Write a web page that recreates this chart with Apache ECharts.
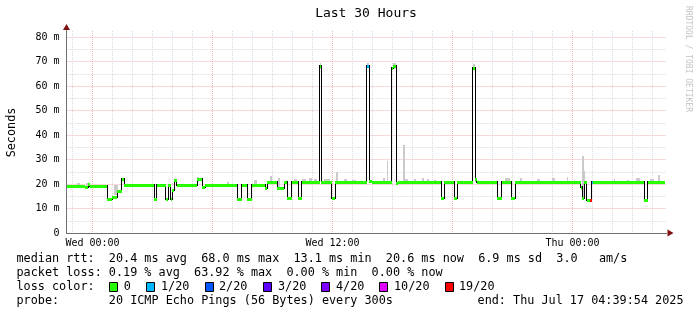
<!DOCTYPE html>
<html><head><meta charset="utf-8">
<script src="https://cdn.jsdelivr.net/npm/echarts/dist/echarts.min.js"></script>
<style>html,body{margin:0;padding:0;background:#fff}#c{width:697px;height:315px}</style>
</head><body><div id="c"></div>
<script>
// ---- data (hours relative to Wed 00:00) ----
const lossLabels = ['0', '1/20', '2/20', '3/20', '4/20', '10/20', '19/20'];
const lossColors = ['#26ff00', '#00b8ff', '#0059ff', '#5e00ff', '#7e00ff', '#dd00ff', '#ff0000'];

const xTickHours = [0, 12, 24];
const xTickLabels = ['Wed 00:00', 'Wed 12:00', 'Thu 00:00'];

// median rtt step function: change times (h), value (ms) held until next change, loss index
const medHours = [-1.29, -0.38, -0.21, -0.15, 0.74, 0.98, 1.24, 1.46, 1.59, 3.08, 3.22, 3.66, 3.79, 3.92, 3.99, 4.08, 4.21,
  5.24, 5.49, 5.63, 7.24, 7.46, 7.74, 7.96, 8.63, 8.74, 9.24, 9.59, 9.74, 9.96, 10.29, 10.46, 11.35, 11.44, 11.96, 12.13,
  13.71, 13.84, 13.95, 14.96, 15.04, 15.19, 15.28, 17.43, 17.59, 18.09, 18.24, 19.01, 19.13, 19.21, 20.24, 20.46, 20.93,
  21.13, 24.41, 24.48, 24.59, 24.71, 24.88, 24.96, 25.01, 27.59, 27.75];
const medValues = [19.3, 18.7, 20.0, 19.3, 13.9, 14.6, 17.0, 22.0, 19.4, 14.0, 19.4, 14.0, 19.4, 14.0, 17.5, 21.8, 19.4,
  22.0, 18.7, 19.4, 14.0, 19.4, 14.0, 19.4, 18.2, 20.8, 18.2, 20.8, 14.2, 20.8, 14.2, 20.8, 68.0, 20.8, 14.2, 20.8,
  68.3, 21.4, 20.8, 67.3, 68.0, 20.5, 20.9, 14.4, 20.9, 14.4, 20.9, 67.3, 22.0, 20.9, 14.4, 20.9, 14.4,
  20.9, 18.7, 14.3, 20.9, 13.4, 13.4, 20.9, 20.9, 13.5, 20.9];
const medLoss = [0, 0, 0, 0, 0, 0, 0, 0, 0, 0, 0, 0, 0, 0, 0, 0, 0,
  0, 0, 0, 0, 0, 0, 0, 0, 0, 0, 0, 0, 0, 0, 0, 0, 0, 0, 0,
  1, 0, 0, 0, 0, 0, 0, 0, 0, 0, 0, 0, 0, 0, 0, 0, 0,
  0, 0, 0, 0, 0, 6, 1, 0, 0, 0];
const endHour = 28.64;

// smoke (spread of pings): start h, end h, low ms, high ms
const smokeStart = [-0.78, -0.33, 1.06, 5.23, 6.73, 8.06, 8.88, 9.28, 10.08, 10.48, 10.83, 11.08, 11.35, 11.58, 12.18, 12.58, 12.98,
  13.71, 14.53, 14.71, 15.04, 15.51, 15.63, 16.08, 16.48, 16.73, 17.08, 19.01, 19.14, 20.63, 21.36, 22.23, 22.98, 23.73, 24.06,
  24.48, 24.56, 26.06, 26.73, 27.19, 27.89, 28.28];
const smokeEnd = [-0.63, -0.23, 1.28, 5.33, 6.83, 8.23, 8.98, 9.38, 10.23, 10.68, 10.98, 11.23, 11.44, 11.88, 12.28, 12.73, 13.18,
  13.84, 14.63, 14.79, 15.19, 15.63, 15.78, 16.18, 16.58, 16.83, 17.18, 19.13, 19.23, 20.88, 21.48, 22.38, 23.13, 23.78, 24.14,
  24.56, 24.64, 26.14, 26.81, 27.36, 28.06, 28.39];
const smokeLow = [19.3, 18.7, 15.6, 21.0, 19.4, 19.4, 20.8, 18.2, 20.8, 20.8, 20.8, 20.8, 67.0, 20.8, 20.8, 20.8, 20.8,
  67.5, 20.8, 20.8, 67.0, 20.9, 20.9, 20.9, 20.9, 20.9, 20.9, 66.5, 20.9, 20.9, 20.9, 20.9, 20.9, 20.9, 20.9,
  14.3, 18.0, 20.9, 20.9, 20.9, 20.9, 20.9];
const smokeHigh = [20.4, 20.6, 19.4, 22.7, 21.0, 21.8, 23.1, 22.3, 22.0, 22.0, 22.3, 22.0, 69.3, 22.2, 24.7, 22.0, 21.8,
  69.5, 22.4, 29.2, 69.3, 36.0, 22.0, 22.2, 22.5, 22.0, 21.8, 69.0, 22.4, 22.4, 22.4, 22.0, 22.4, 23.0, 21.8,
  31.4, 25.2, 22.0, 21.8, 22.4, 22.0, 23.8];

const statLines = [
  'median rtt:  20.4 ms avg  68.0 ms max  13.1 ms min  20.6 ms now  6.9 ms sd  3.0   am/s',
  'packet loss: 0.19 % avg  63.92 % max  0.00 % min  0.00 % now'
];
const probeText = 'probe:       20 ICMP Echo Pings (56 Bytes) every 300s';
const endText = 'end: Thu Jul 17 04:39:54 2025';

// ---- build series data ----
const bandData = medHours.map((h, i) => [h, i + 1 < medHours.length ? medHours[i + 1] : endHour, medValues[i], medLoss[i]]);
const stepData = medHours.slice(1).map((h, i) => [h, medValues[i], medValues[i + 1]]);
const smokeData = smokeStart.map((s, i) => [s, smokeEnd[i], smokeLow[i], smokeHigh[i]]);

const mono = '"DejaVu Sans Mono", monospace';
const GRAY = '#dadada', RED = '#eeb0b0';

const chart = echarts.init(document.getElementById('c'), null, {renderer: 'canvas'});

const hidden = {show: false};
const legendX = 16.5;
const rowY = [259, 273, 287, 301];
const boxX = [108.6, 146, 204.6, 262.7, 321, 379, 444.6];
const lblX = [123.8, 161, 219, 278, 336, 394, 459];
const FS = 11.8;

function txt(x, y, s, opt) {
  opt = opt || {};
  return {
    type: 'text', x: x, y: y, rotation: opt.rot || 0, z: 100, silent: true,
    style: {
      text: s, fill: opt.color || '#000', fontFamily: mono, fontSize: opt.size || FS,
      align: opt.align || 'left', verticalAlign: 'middle', textAlign: opt.align || 'left', textVerticalAlign: 'middle'
    }
  };
}

const graphics = [
  txt(366, 14, 'Last 30 Hours', {size: 13, align: 'center'}),
  txt(12, 132.5, 'Seconds', {rot: Math.PI / 2, align: 'center'}),
  txt(688, 59, 'RRDTOOL / TOBI OETIKER', {rot: -Math.PI / 2, align: 'center', size: 8, color: '#c4c4c4'}),
  txt(legendX, rowY[0], statLines[0]),
  txt(legendX, rowY[1], statLines[1]),
  txt(legendX, rowY[2], 'loss color:'),
  txt(legendX, rowY[3], probeText),
  txt(683.5, rowY[3], endText, {align: 'right'})
];
lossLabels.forEach((l, i) => {
  graphics.push({type: 'rect', z: 100, silent: true, shape: {x: Math.round(boxX[i]) + 0.5, y: rowY[2] - 4.5, width: 8, height: 9},
    style: {fill: lossColors[i], stroke: '#000', lineWidth: 1}});
  graphics.push(txt(lblX[i], rowY[2], l));
});

const snap = v => Math.round(v);

const option = {
  animation: false,
  backgroundColor: '#fff',
  grid: [
    {left: 66.5, right: 30.5, top: 31, bottom: 82, outerBoundsMode: 'none'},
    {left: 72.5, right: 44.5, top: 31, bottom: 82, outerBoundsMode: 'none'},
    {left: 66.5, right: 30.5, top: 37, bottom: 82, outerBoundsMode: 'none'}
  ],
  xAxis: [
    {gridIndex: 0, type: 'value', min: -1.3, max: 28.7, z: 5, position: 'bottom',
      axisLine: {show: true, onZero: false, lineStyle: {color: '#707070', width: 1}},
      axisTick: hidden, axisLabel: hidden, splitLine: hidden},
    {gridIndex: 1, type: 'value', min: -1, max: 28, interval: 1, position: 'bottom',
      axisLine: {show: false, onZero: false}, axisTick: hidden,
      axisLabel: {show: true, margin: 5, fontFamily: mono, fontSize: 10, color: '#000',
        formatter: v => { const k = xTickHours.indexOf(Math.round(v)); return k >= 0 ? xTickLabels[k] : ''; }},
      splitLine: {show: true, lineStyle: {color: [GRAY, RED, GRAY, GRAY, GRAY, GRAY], type: [1, 1], width: 1}}},
    {gridIndex: 2, type: 'value', min: 0, max: 1, show: false},
    {gridIndex: 0, type: 'value', min: -1.3, max: 28.7, z: 4, position: 'bottom',
      axisLine: {show: true, onZero: false, symbol: ['none', 'triangle'], symbolSize: [7, 6], symbolOffset: [0, 4],
        lineStyle: {color: '#7f1010', width: 1}},
      axisTick: hidden, axisLabel: hidden, splitLine: hidden}
  ],
  yAxis: [
    {gridIndex: 0, type: 'value', min: 0, max: 82.45, z: 5, position: 'left',
      axisLine: {show: true, onZero: false, lineStyle: {color: '#707070', width: 1}},
      axisTick: hidden, axisLabel: hidden, splitLine: hidden},
    {gridIndex: 1, type: 'value', min: 0, max: 1, show: false},
    {gridIndex: 2, type: 'value', min: 0, max: 80, interval: 10, position: 'left',
      axisLine: {show: false, onZero: false}, axisTick: hidden,
      axisLabel: {show: true, margin: 7, fontFamily: mono, fontSize: 10, color: '#000',
        formatter: v => v === 0 ? '0' : v + ' m'},
      splitLine: {show: true, lineStyle: {color: RED, type: [1, 1], width: 1}},
      minorTick: {show: false, splitNumber: 2},
      minorSplitLine: {show: true, lineStyle: {color: GRAY, type: [1, 1], width: 1}}},
    {gridIndex: 0, type: 'value', min: 0, max: 82.45, z: 4, position: 'left',
      axisLine: {show: true, onZero: false, symbol: ['none', 'triangle'], symbolSize: [7, 6], symbolOffset: [0, 4],
        lineStyle: {color: '#7f1010', width: 1}},
      axisTick: hidden, axisLabel: hidden, splitLine: hidden}
  ],
  series: [
    {
      type: 'custom', name: 'smoke', xAxisIndex: 0, yAxisIndex: 0, z: 2,
      encode: {x: [0, 1], y: [2, 3]},
      data: smokeData,
      renderItem: (params, api) => {
        const a = api.coord([api.value(0), api.value(3)]);
        const b = api.coord([api.value(1), api.value(2)]);
        const x0 = snap(a[0]), x1 = Math.max(snap(b[0]), x0 + 1);
        const y0 = snap(a[1]), y1 = snap(b[1]);
        return {type: 'rect', shape: {x: x0, y: y0, width: x1 - x0, height: y1 - y0},
          style: {fill: '#cacaca'}};
      }
    },
    {
      type: 'custom', name: 'median', xAxisIndex: 0, yAxisIndex: 0, z: 3,
      encode: {x: 0, y: [1, 2]},
      data: stepData,
      renderItem: (params, api) => {
        const a = api.coord([api.value(0), api.value(1)]);
        const b = api.coord([api.value(0), api.value(2)]);
        const x = Math.floor(a[0]);
        const ya = snap(Math.min(a[1], b[1])) - 1, yb = snap(Math.max(a[1], b[1])) + 1;
        return {type: 'rect', shape: {x: x, y: ya, width: 1, height: yb - ya},
          style: {fill: '#000'}};
      }
    },
    {
      type: 'custom', name: 'loss', xAxisIndex: 0, yAxisIndex: 0, z: 4,
      encode: {x: [0, 1], y: 2},
      data: bandData,
      renderItem: (params, api) => {
        const a = api.coord([api.value(0), api.value(2)]);
        const b = api.coord([api.value(1), api.value(2)]);
        const x0 = snap(a[0]), x1 = Math.max(snap(b[0]), x0 + 1);
        return {type: 'rect', shape: {x: x0, y: snap(a[1]) - 1, width: x1 - x0, height: 3},
          style: {fill: lossColors[api.value(3)]}};
      }
    }
  ],
  graphic: graphics
};
chart.setOption(option);
</script></body></html>
